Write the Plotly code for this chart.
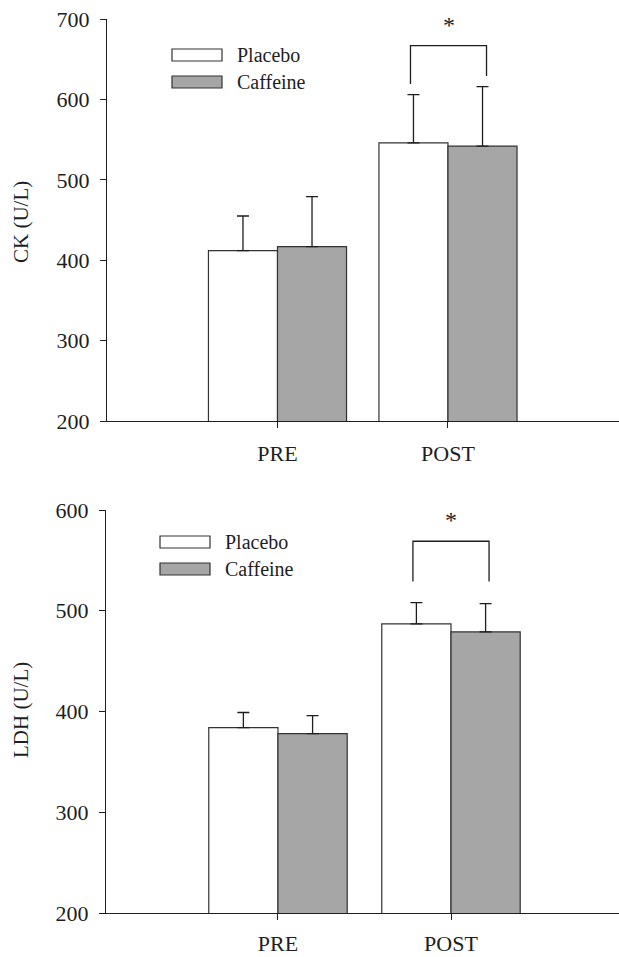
import plotly.graph_objects as go

# ---- data ----
categories = ["PRE", "POST"]
ck_placebo = [412, 546]
ck_placebo_err = [43, 60]
ck_caffeine = [417, 542]
ck_caffeine_err = [62, 74]

ldh_placebo = [384, 487]
ldh_placebo_err = [15, 21]
ldh_caffeine = [378, 479]
ldh_caffeine_err = [18, 28]

series_names = ["Placebo", "Caffeine"]
ck_ticks = [200, 300, 400, 500, 600, 700]
ldh_ticks = [200, 300, 400, 500, 600]

W, H = 619, 957
FONT = "Liberation Serif, Times New Roman, Times, DejaVu Serif, serif"
INK = "#1e1e1e"
GRAY = "#a6a6a6"

def py(y):  # pixel y -> paper fraction
    return 1 - y / H

def px(x):
    return x / W

fig = go.Figure()

panels = [
    dict(xa="x", ya="y", pl=ck_placebo, ple=ck_placebo_err, cf=ck_caffeine, cfe=ck_caffeine_err, w=0.405),
    dict(xa="x2", ya="y2", pl=ldh_placebo, ple=ldh_placebo_err, cf=ldh_caffeine, cfe=ldh_caffeine_err, w=0.40),
]
xpos = list(range(len(categories)))
for p in panels:
    for name, vals, errs, fill, off in [
        (series_names[0], p["pl"], p["ple"], "white", -p["w"]),
        (series_names[1], p["cf"], p["cfe"], GRAY, 0),
    ]:
        fig.add_trace(go.Bar(
            x=xpos, y=vals, name=name, xaxis=p["xa"], yaxis=p["ya"],
            width=p["w"], offset=off,
            marker=dict(color=fill, line=dict(color="#333333", width=1.2)),
            error_y=dict(type="data", array=errs, arrayminus=[0] * len(errs),
                         symmetric=False, color=INK, thickness=1.3, width=6),
            showlegend=False,
        ))

axis_common = dict(showline=True, linecolor=INK, linewidth=1.3, ticks="outside",
                   ticklen=6, tickcolor=INK, tickwidth=1.2, showgrid=False, zeroline=False,
                   automargin=False,
                   tickfont=dict(family=FONT, size=22, color=INK))

fig.update_layout(
    template="none",
    width=W, height=H, margin=dict(l=0, r=0, t=0, b=0, pad=0, autoexpand=False),
    paper_bgcolor="white", plot_bgcolor="white", barmode="overlay",
    xaxis=dict(domain=[px(107), 1], range=[-1.0, 2.003], tickvals=xpos, ticktext=categories,
               anchor="y", ticklabelstandoff=6, **axis_common),
    yaxis=dict(domain=[py(421), py(19)], range=[200, 700], tickvals=ck_ticks, anchor="x",
               ticklabelstandoff=6, **axis_common),
    xaxis2=dict(domain=[px(106), 1], range=[-0.994, 1.971], tickvals=xpos, ticktext=categories,
                anchor="y2", ticklabelstandoff=4, **axis_common),
    yaxis2=dict(domain=[py(913), py(510)], range=[200, 600], tickvals=ldh_ticks, anchor="x2",
                ticklabelstandoff=6, **axis_common),
)

# axis titles
fig.add_annotation(text="CK (U/L)", x=px(21), y=py(222), xref="paper", yref="paper",
                   xanchor="center", yanchor="middle",
                   textangle=-90, showarrow=False, font=dict(family=FONT, size=21, color=INK))
fig.add_annotation(text="LDH (U/L)", x=px(21), y=py(710), xref="paper", yref="paper",
                   xanchor="center", yanchor="middle",
                   textangle=-90, showarrow=False, font=dict(family=FONT, size=21, color=INK))

# legends
for bx0, by0, tx in [(172, 49, 235), (160, 536, 223)]:
    for i, (nm, fill) in enumerate(zip(series_names, ["white", GRAY])):
        y0 = by0 + i * 27
        fig.add_shape(type="rect", xref="paper", yref="paper",
                      x0=px(bx0), x1=px(bx0 + 50), y0=py(y0), y1=py(y0 + 12),
                      fillcolor=fill, line=dict(color="#333333", width=1.2))
        fig.add_annotation(text=nm, x=px(tx), y=py(y0 + 6), xref="paper", yref="paper",
                           xanchor="left", yanchor="middle", showarrow=False,
                           font=dict(family=FONT, size=20, color=INK))

# significance brackets
brackets = [
    dict(xr="x", yr="y", xl=0.78, xrgt=1.226, top=667, left_end=619, right_end=629, star=693),
    dict(xr="x2", yr="y2", xl=0.78, xrgt=1.22, top=569, left_end=529, right_end=529, star=590),
]
for b in brackets:
    path = (f"M {b['xl']} {b['left_end']} L {b['xl']} {b['top']} "
            f"L {b['xrgt']} {b['top']} L {b['xrgt']} {b['right_end']}")
    fig.add_shape(type="path", path=path, xref=b["xr"], yref=b["yr"],
                  line=dict(color=INK, width=1.3))
    fig.add_annotation(text="*", x=(b["xl"] + b["xrgt"]) / 2, y=b["star"], xref=b["xr"], yref=b["yr"],
                       showarrow=False, yanchor="middle",
                       font=dict(family=FONT, size=24, color=INK))

fig.write_html("out.html", config={"displayModeBar": False},
               post_script="document.body.style.margin='0';document.body.style.overflow='hidden';")
